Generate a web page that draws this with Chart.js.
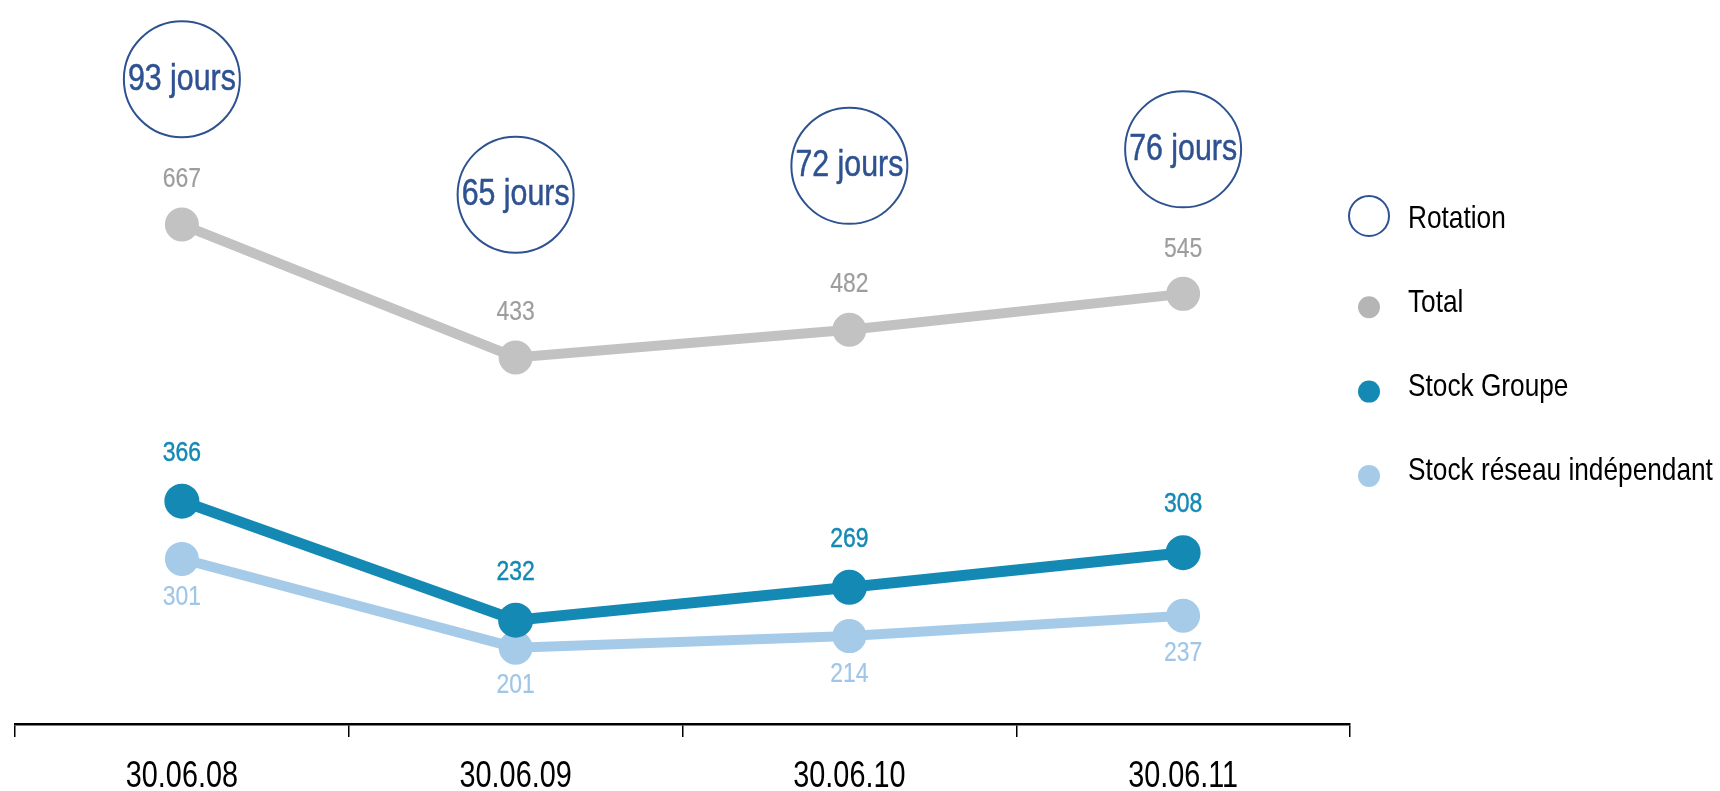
<!DOCTYPE html>
<html>
<head>
<meta charset="utf-8">
<script src="https://cdn.jsdelivr.net/npm/chart.js@4.4.0/dist/chart.umd.min.js"></script>
<style>
  html, body { margin: 0; padding: 0; background: #fff; overflow: hidden; }
  #wrap { width: 1720px; height: 791px; position: relative; }
</style>
</head>
<body>
<div id="wrap"><canvas id="chart"></canvas></div>
<script>
// Data
const dates = ["30.06.08", "30.06.09", "30.06.10", "30.06.11"];
const rotationDays = [93, 65, 72, 76];
const stockTotal = [667, 433, 482, 545];
const stockGroupe = [366, 232, 269, 308];
const stockReseau = [301, 201, 214, 237];
const seriesNames = ["Rotation", "Total", "Stock Groupe", "Stock réseau indépendant"];

// Styles
const FONT = '"Liberation Sans", Arial, sans-serif';
const NARROW_X = 0.82; // horizontal squeeze to imitate a narrow face
const BLUE_DARK = "#2e5291";
const GREY_LINE = "#c2c2c2";
const GREY_TEXT = "#9d9d9d";
const TEAL = "#1489b4";
const SKY = "#a6cbe9";

function narrowText(ctx, text, x, y, font, color, align, baseline, sx, heavy) {
    ctx.save();
    ctx.translate(x, y);
    ctx.scale(sx || NARROW_X, 1);
    ctx.font = font;
    ctx.fillStyle = color;
    ctx.textAlign = align;
    ctx.textBaseline = baseline;
    ctx.fillText(text, 0, 0);
    if (heavy) { // a bit more weight than regular
        ctx.lineWidth = heavy;
        ctx.strokeStyle = color;
        ctx.lineJoin = "round";
        ctx.strokeText(text, 0, 0);
    }
    ctx.restore();
}

// Value labels above / below points, and text inside rotation circles
const valueLabels = {
    id: "valueLabels",
    afterDatasetsDraw(chart) {
        const ctx = chart.ctx;
        chart.data.datasets.forEach((ds, i) => {
            const meta = chart.getDatasetMeta(i);
            meta.data.forEach((pt, j) => {
                const v = ds.data[j];
                const txt = ds.labelSuffix ? v + ds.labelSuffix : String(v);
                narrowText(ctx, txt, pt.x, pt.y + ds.labelOffset, ds.labelFont, ds.labelColor,
                    "center", "middle", ds.labelScale, ds.labelHeavy);
            });
        });
    }
};

// Category labels under the axis, drawn narrow
const axisLabels = {
    id: "axisLabels",
    afterDraw(chart) {
        const sc = chart.scales.x;
        sc.ticks.forEach((t, i) => {
            narrowText(chart.ctx, sc.getLabelForValue(t.value), sc.getPixelForTick(i), 787,
                "36px " + FONT, "#000", "center", "alphabetic", 0.8);
        });
    }
};

// Legend on the right
const sideLegend = {
    id: "sideLegend",
    afterDraw(chart) {
        const ctx = chart.ctx;
        const x = 1369, textX = 1408, top = 216, step = 84.3, size = 32;
        const swatch = [
            { fill: null, stroke: BLUE_DARK, r: 20 },
            { fill: "#b5b5b5", r: 11 },
            { fill: TEAL, r: 11 },
            { fill: SKY, r: 11 }
        ];
        seriesNames.forEach((name, i) => {
            const cy = top + step * i;
            const s = swatch[i];
            const dy = s.fill ? 7 : 0;
            ctx.save();
            ctx.beginPath();
            ctx.arc(x, cy + dy, s.r, 0, Math.PI * 2);
            if (s.fill) { ctx.fillStyle = s.fill; ctx.fill(); }
            else { ctx.lineWidth = 2; ctx.strokeStyle = s.stroke; ctx.stroke(); }
            ctx.restore();
            narrowText(ctx, name, textX, cy + size * 0.36, size + "px " + FONT, "#000", "left", "alphabetic");
        });
    }
};

new Chart(document.getElementById("chart"), {
    type: "line",
    data: {
        labels: dates,
        datasets: [
            {
                label: seriesNames[0],
                data: rotationDays,
                yAxisID: "yRot",
                showLine: false,
                pointRadius: 58,
                pointBorderWidth: 2,
                pointBorderColor: BLUE_DARK,
                pointBackgroundColor: "rgba(255,255,255,0)",
                labelFont: "37px " + FONT,
                labelColor: BLUE_DARK,
                labelSuffix: " jours",
                labelScale: 0.82,
                labelHeavy: 0.5,
                labelOffset: 0
            },
            {
                label: seriesNames[1],
                data: stockTotal,
                yAxisID: "yTotal",
                borderColor: GREY_LINE,
                backgroundColor: GREY_LINE,
                borderWidth: 10,
                pointRadius: 12,
                labelFont: "28px " + FONT,
                labelColor: GREY_TEXT,
                labelHeavy: 0.2,
                labelOffset: -45
            },
            {
                label: seriesNames[2],
                data: stockGroupe,
                yAxisID: "yStock",
                borderColor: TEAL,
                backgroundColor: TEAL,
                borderWidth: 11,
                pointRadius: 12,
                labelFont: "28px " + FONT,
                labelColor: TEAL,
                labelHeavy: 0.45,
                labelOffset: -48
            },
            {
                label: seriesNames[3],
                data: stockReseau,
                yAxisID: "yStock",
                borderColor: SKY,
                backgroundColor: SKY,
                borderWidth: 10,
                pointRadius: 12,
                labelFont: "28px " + FONT,
                labelColor: "#9fc6e7",
                labelHeavy: 0.2,
                labelOffset: 38
            }
        ]
    },
    options: {
        responsive: true,
        maintainAspectRatio: false,
        animation: false,
        clip: false,
        layout: { autoPadding: false, padding: { left: 15, right: 370, top: 20, bottom: 0 } },
        plugins: { legend: { display: false }, tooltip: { enabled: false } },
        elements: { line: { tension: 0 } },
        scales: {
            x: {
                offset: true,
                grid: { offset: true, drawOnChartArea: false, drawTicks: true, tickLength: 13, color: "#000", lineWidth: 1.5 },
                border: { display: true, color: "#000", width: 2.5 },
                // real labels are painted narrow by axisLabels
                ticks: { display: false },
                afterFit(scale) { scale.height = 67; }
            },
            yTotal: { display: false, min: -212, max: 1027 },
            yStock: { display: false, min: 115, max: 908 },
            yRot: { display: false, min: -63.5, max: 107.4 }
        }
    },
    plugins: [valueLabels, axisLabels, sideLegend]
});
</script>
</body>
</html>
